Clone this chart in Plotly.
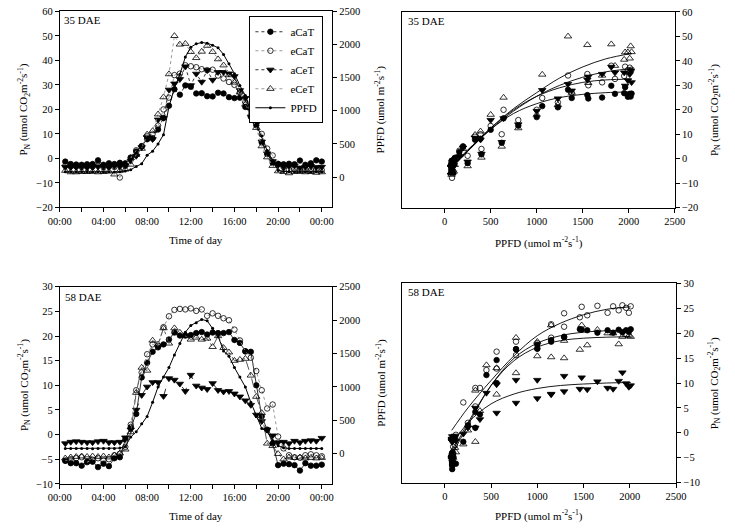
import plotly.graph_objects as go

W, H = 735, 531
FONT = "Liberation Serif"

hours = [0.5, 1.0, 1.5, 2.0, 2.5, 3.0, 3.5, 4.0, 4.5, 5.0, 5.5, 6.0,
         6.5, 7.0, 7.5, 8.0, 8.5, 9.0, 9.5, 10.0, 10.5, 11.0, 11.5, 12.0,
         12.5, 13.0, 13.5, 14.0, 14.5, 15.0, 15.5, 16.0, 16.5, 17.0, 17.5, 18.0,
         18.5, 19.0, 19.5, 20.0, 20.5, 21.0, 21.5, 22.0, 22.5, 23.0, 23.5, 24.0]
hour_ticks = [0, 2, 4, 6, 8, 10, 12, 14, 16, 18, 20, 22, 24]
hour_labels = ["00:00", "", "04:00", "", "08:00", "", "12:00", "", "16:00", "", "20:00", "", "00:00"]

# ---- 35 DAE ----
ppfd_35 = [80, 75, 75, 80, 75, 75, 80, 75, 80, 75, 80, 90,
           110, 160, 200, 330, 390, 500, 640, 1060, 1340, 1550, 1810, 1960,
           2010, 2030, 2020, 1990, 1950, 1850, 1710, 1560, 1380, 1230, 1000, 800,
           620, 400, 250, 100, 85, 80, 80, 75, 80, 75, 80, 80]
acat_35 = [-1.3, -2.3, -2.5, -2.6, -2.4, -2.3, -0.8, -2.6, -2.0, -2.3, -1.8, -2.0,
           0.3, 2.8, 5.0, 7.8, 8.2, 11.8, 16.5, 21.5, 28.2, 26.0, 29.8, 29.2,
           26.5, 26.6, 25.4, 25.3, 26.8, 26.5, 25.0, 24.6, 24.8, 21.0, 17.0, 13.5,
           6.5, 1.8, -1.8, -2.2, -2.4, -2.2, -2.4, -0.9, -2.6, -2.0, -0.8, -1.3]
ecat_35 = [-3.0, -3.3, -3.3, -3.5, -3.2, -3.3, -3.0, -3.6, -3.2, -3.5, -7.8, -3.0,
           0.3, 3.3, 5.0, 9.0, 10.0, 13.4, 20.0, 24.8, 34.0, 34.6, 38.0, 37.6,
           37.2, 36.4, 36.0, 36.2, 33.8, 32.6, 31.2, 30.0, 27.0, 23.0, 20.0, 15.8,
           10.0, 4.0, 1.2, -2.5, -3.5, -4.5, -4.3, -4.6, -4.5, -4.8, -4.5, -4.8]
acet_35 = [-3.5, -3.6, -3.6, -3.5, -3.8, -3.6, -3.3, -3.5, -3.6, -3.2, -3.4, -3.0,
           -1.0, 1.0, 4.5, 8.5, 7.8, 15.8, 16.5, 28.0, 30.5, 32.3, 37.5, 29.8,
           34.5, 31.2, 36.0, 32.0, 35.2, 35.2, 34.6, 33.5, 27.8, 24.6, 19.5, 14.0,
           6.8, 2.0, -1.2, -2.6, -3.5, -3.3, -3.0, -3.8, -3.5, -3.2, -3.6, -3.5]
ecet_35 = [-5.0, -5.6, -5.6, -5.5, -5.5, -5.4, -5.6, -5.5, -5.3, -6.5, -5.0, -4.5,
           -2.5, 1.5, 4.0, 9.8, 11.2, 18.0, 25.0, 34.4, 50.0, 46.5, 46.8, 43.5,
           41.0, 43.6, 46.0, 43.5, 40.5, 38.0, 34.0, 31.0, 27.0, 22.0, 18.0, 12.5,
           5.0, 0.5, -3.0, -5.2, -5.5, -6.0, -5.5, -5.4, -5.6, -5.5, -5.8, -5.6]

# ---- 58 DAE ----
ppfd_58 = [80, 80, 80, 80, 80, 75, 80, 80, 80, 80, 85, 110,
           250, 330, 450, 560, 770, 1000, 1150, 1290, 1480, 1650, 1820, 1920,
           1960, 2010, 1990, 1880, 1760, 1540, 1460, 1290, 1150, 1000, 770, 560,
           380, 330, 200, 120, 90, 80, 80, 80, 80, 80, 80, 80]
acat_58 = [-5.3, -5.8, -5.8, -6.3, -5.5, -5.5, -6.6, -5.9, -6.4, -4.8, -4.6, -1.0,
           1.5, 4.2, 11.6, 14.6, 16.8, 17.7, 18.3, 19.3, 20.7, 20.1, 20.1, 20.2,
           20.6, 20.8, 20.3, 20.7, 20.6, 20.6, 20.8, 19.2, 18.6, 16.9, 16.8, 10.0,
           3.7, 1.0, -1.8, -6.2, -5.9, -6.0, -6.2, -7.3, -5.8, -6.3, -6.3, -6.1]
ecat_58 = [-5.3, -5.0, -4.8, -4.6, -5.6, -5.1, -4.8, -5.3, -5.0, -4.2, -3.9, -2.5,
           2.0, 9.0, 12.6, 16.3, 18.3, 18.0, 21.8, 24.0, 25.3, 25.5, 25.4, 25.6,
           25.1, 25.4, 24.1, 24.6, 24.1, 23.6, 23.2, 21.3, 19.1, 16.9, 15.6, 12.9,
           9.0, 5.3, 6.1, -0.4, -2.8, -4.2, -4.6, -4.7, -4.2, -4.0, -4.2, -4.4]
acet_58 = [-1.8, -1.5, -1.4, -1.5, -1.6, -1.6, -1.4, -1.3, -1.6, -1.6, -1.5, -0.6,
           1.0, 5.0, 8.0, 9.7, 10.6, 10.6, 7.8, 11.4, 11.1, 10.3, 8.8, 12.1,
           9.9, 9.5, 9.2, 10.4, 9.0, 8.7, 8.8, 8.3, 7.7, 6.9, 6.0, 4.0,
           2.7, 1.0, -0.2, -1.6, -1.5, -1.8, -1.3, -1.6, -1.3, -1.2, -1.3, -0.7]
ecet_58 = [-4.8, -4.6, -4.5, -4.4, -4.5, -4.4, -4.5, -4.4, -4.6, -4.2, -3.8, -3.0,
           0.5, 8.5, 13.6, 13.0, 19.1, 18.3, 21.6, 18.5, 21.6, 20.7, 20.0, 19.3,
           19.7, 19.3, 19.5, 17.8, 20.0, 17.6, 16.7, 15.0, 15.2, 15.4, 12.0, 7.7,
           4.4, -1.8, -2.3, -3.9, -5.0, -4.6, -4.7, -4.6, -4.8, -4.7, -4.8, -4.7]

# ---- light-response fitted curves ----
fit_x_35 = [75, 250, 500, 750, 1000, 1250, 1500, 1750, 2030]
fit_acat_35 = [-3.5, 3.0, 12.0, 19.5, 25.5, 30.0, 33.3, 35.5, 36.8]
fit_ecat_35 = [-3.0, 3.5, 12.0, 18.5, 22.5, 25.0, 26.3, 27.0, 27.3]
fit_acet_35 = [-3.5, 3.5, 12.5, 20.0, 25.5, 29.0, 31.2, 32.2, 32.5]
fit_ecet_35 = [-4.0, 3.0, 12.5, 20.5, 27.0, 33.0, 37.5, 40.8, 43.0]

fit_x_58 = [75, 250, 500, 750, 1000, 1250, 1500, 1750, 2010]
fit_acat_58 = [-4.0, 2.0, 9.5, 15.0, 18.0, 19.5, 20.2, 20.5, 20.6]
fit_ecat_58 = [0.5, 5.0, 10.5, 15.5, 19.5, 22.0, 23.7, 24.8, 25.3]
fit_acet_58 = [-2.5, 2.0, 5.8, 7.8, 8.9, 9.5, 9.8, 10.0, 10.1]
fit_ecet_58 = [-4.5, 1.5, 9.5, 14.5, 17.2, 18.5, 19.0, 19.2, 19.3]

names = ["aCaT", "eCaT", "aCeT", "eCeT"]
symbols = ["circle", "circle-open", "triangle-down", "triangle-up-open"]
sizes = [5.5, 5.5, 6.5, 6.5]
top_dash = ["dot", "dot", "dot", "dot"]
top_col = ["#333333", "#9a9a9a", "#333333", "#9a9a9a"]
bot_dash = ["solid", "dot", "dash", "dashdot"]
bot_col = ["#333333", "#9a9a9a", "#333333", "#555555"]

series_35 = [acat_35, ecat_35, acet_35, ecet_35]
series_58 = [acat_58, ecat_58, acet_58, ecet_58]
fits_35 = [fit_acat_35, fit_ecat_35, fit_acet_35, fit_ecet_35]
fits_58 = [fit_acat_58, fit_ecat_58, fit_acet_58, fit_ecet_58]

fig = go.Figure()

def mk(sym):
    return dict(symbol=sym, color="black", line=dict(color="black", width=0.8))

# Top-left: diurnal 35 DAE
for i in range(4):
    fig.add_trace(go.Scatter(x=hours, y=series_35[i], mode="lines+markers", name=names[i],
                             line=dict(color=top_col[i], width=1, dash=top_dash[i]),
                             marker=dict(size=sizes[i], **mk(symbols[i])),
                             xaxis="x", yaxis="y", showlegend=True))
fig.add_trace(go.Scatter(x=hours, y=ppfd_35, mode="lines+markers", name="PPFD",
                         line=dict(color="black", width=1),
                         marker=dict(size=3, symbol="circle", color="black"),
                         xaxis="x", yaxis="y2", showlegend=True))

# Bottom-left: diurnal 58 DAE
for i in range(4):
    fig.add_trace(go.Scatter(x=hours, y=series_58[i], mode="lines+markers", name=names[i],
                             line=dict(color=bot_col[i], width=1, dash=bot_dash[i]),
                             marker=dict(size=sizes[i], **mk(symbols[i])),
                             xaxis="x3", yaxis="y4", showlegend=False))
fig.add_trace(go.Scatter(x=hours, y=ppfd_58, mode="lines+markers", name="PPFD",
                         line=dict(color="black", width=1),
                         marker=dict(size=3, symbol="circle", color="black"),
                         xaxis="x3", yaxis="y5", showlegend=False))

# Right panels: light response
for i in range(4):
    fig.add_trace(go.Scatter(x=fit_x_35, y=fits_35[i], mode="lines", line_shape="spline",
                             line=dict(color="black", width=0.9), xaxis="x2", yaxis="y3",
                             showlegend=False))
    fig.add_trace(go.Scatter(x=ppfd_35, y=series_35[i], mode="markers",
                             marker=dict(size=sizes[i], **mk(symbols[i])),
                             xaxis="x2", yaxis="y3", showlegend=False))
    fig.add_trace(go.Scatter(x=fit_x_58, y=fits_58[i], mode="lines", line_shape="spline",
                             line=dict(color="black", width=0.9), xaxis="x4", yaxis="y6",
                             showlegend=False))
    fig.add_trace(go.Scatter(x=ppfd_58, y=series_58[i], mode="markers",
                             marker=dict(size=sizes[i], **mk(symbols[i])),
                             xaxis="x4", yaxis="y6", showlegend=False))

def px_x(v):
    return v / W

def px_y(v):
    return 1 - v / H

tickfont = dict(family=FONT, size=10.5, color="black")
axcommon = dict(showline=True, linecolor="black", linewidth=1, ticks="outside",
                ticklen=4, tickcolor="black", tickwidth=1, showgrid=False, zeroline=False,
                tickfont=tickfont)

tl_x = [px_x(49.3), px_x(330)]
tl_y = [px_y(206.7), px_y(6.5)]
bl_x = [px_x(49.3), px_x(330)]
bl_y = [px_y(489), px_y(287.7)]
tr_x = [px_x(402.3), px_x(683.3)]
tr_y = [px_y(207), px_y(7)]
br_x = [px_x(402.3), px_x(685)]
br_y = [px_y(487.7), px_y(284.3)]

fig.update_layout(
    width=W, height=H, margin=dict(l=0, r=0, t=0, b=0), autosize=False,
    paper_bgcolor="white", plot_bgcolor="white",
    font=dict(family=FONT, size=11, color="black"),
    xaxis=dict(domain=tl_x, range=[0, 24.95], tickvals=hour_ticks, ticktext=hour_labels,
               anchor="y", mirror=True, **axcommon),
    yaxis=dict(domain=tl_y, range=[-20, 60], tickvals=[-20, -10, 0, 10, 20, 30, 40, 50, 60],
               anchor="x", **axcommon),
    yaxis2=dict(range=[-458, 2500], tickvals=[0, 500, 1000, 1500, 2000, 2500],
                overlaying="y", side="right", anchor="x", **axcommon),
    xaxis3=dict(domain=bl_x, range=[0, 24.95], tickvals=hour_ticks, ticktext=hour_labels,
                anchor="y4", mirror=True, **axcommon),
    yaxis4=dict(domain=bl_y, range=[-10, 30], tickvals=[-10, -5, 0, 5, 10, 15, 20, 25, 30],
                anchor="x3", **axcommon),
    yaxis5=dict(range=[-450, 2500], tickvals=[0, 500, 1000, 1500, 2000, 2500],
                overlaying="y4", side="right", anchor="x3", **axcommon),
    xaxis2=dict(domain=tr_x, range=[-460, 2500], tickvals=[0, 500, 1000, 1500, 2000, 2500],
                anchor="y3", mirror=True, **axcommon),
    yaxis3=dict(domain=tr_y, range=[-20, 60], tickvals=[-20, -10, 0, 10, 20, 30, 40, 50, 60],
                side="right", anchor="x2", mirror=True, **axcommon),
    xaxis4=dict(domain=br_x, range=[-460, 2505], tickvals=[0, 500, 1000, 1500, 2000, 2500],
                anchor="y6", mirror=True, **axcommon),
    yaxis6=dict(domain=br_y, range=[-10, 30], tickvals=[-10, -5, 0, 5, 10, 15, 20, 25, 30],
                side="right", anchor="x4", mirror=True, **axcommon),
    legend=dict(x=px_x(321), y=px_y(11.5), xanchor="right", yanchor="top",
                bgcolor="white", bordercolor="black", borderwidth=1,
                font=dict(family=FONT, size=11, color="black"),
                itemwidth=30, tracegroupgap=0),
)

pn_title = "P<sub>N</sub> (umol CO<sub>2</sub>m<sup>-2</sup>s<sup>-1</sup>)"
ppfd_title = "PPFD (umol m<sup>-2</sup>s<sup>-1</sup>)"
anns = [
    dict(text="35 DAE", x=px_x(52), y=px_y(15.5), xanchor="left", yanchor="middle"),
    dict(text="58 DAE", x=px_x(53), y=px_y(298), xanchor="left", yanchor="middle"),
    dict(text="35 DAE", x=px_x(406), y=px_y(16.5), xanchor="left", yanchor="middle"),
    dict(text="58 DAE", x=px_x(406), y=px_y(293), xanchor="left", yanchor="middle"),
    dict(text="Time of day", x=px_x(189.7), y=px_y(240), xanchor="center", yanchor="middle"),
    dict(text="Time of day", x=px_x(189.7), y=px_y(522), xanchor="center", yanchor="middle"),
    dict(text=ppfd_title, x=px_x(542.8), y=px_y(242.5), xanchor="center", yanchor="middle"),
    dict(text=ppfd_title, x=px_x(543.5), y=px_y(521.5), xanchor="center", yanchor="middle"),
    dict(text=pn_title, x=px_x(12.5), y=px_y(106.6), textangle=-90, xanchor="center", yanchor="middle"),
    dict(text=pn_title, x=px_x(12.5), y=px_y(388), textangle=-90, xanchor="center", yanchor="middle"),
    dict(text=ppfd_title, x=px_x(380), y=px_y(107), textangle=-90, xanchor="center", yanchor="middle"),
    dict(text=ppfd_title, x=px_x(380), y=px_y(386), textangle=-90, xanchor="center", yanchor="middle"),
    dict(text=pn_title, x=px_x(724), y=px_y(107), textangle=-90, xanchor="center", yanchor="middle"),
    dict(text=pn_title, x=px_x(724), y=px_y(386), textangle=-90, xanchor="center", yanchor="middle"),
]
for a in anns:
    a.update(xref="paper", yref="paper", showarrow=False,
             font=dict(family=FONT, size=11, color="black"))
fig.update_layout(annotations=anns)

fig.write_html("out.html", config={"displayModeBar": False},
               post_script="document.body.style.margin='0';document.body.style.padding='0';")
